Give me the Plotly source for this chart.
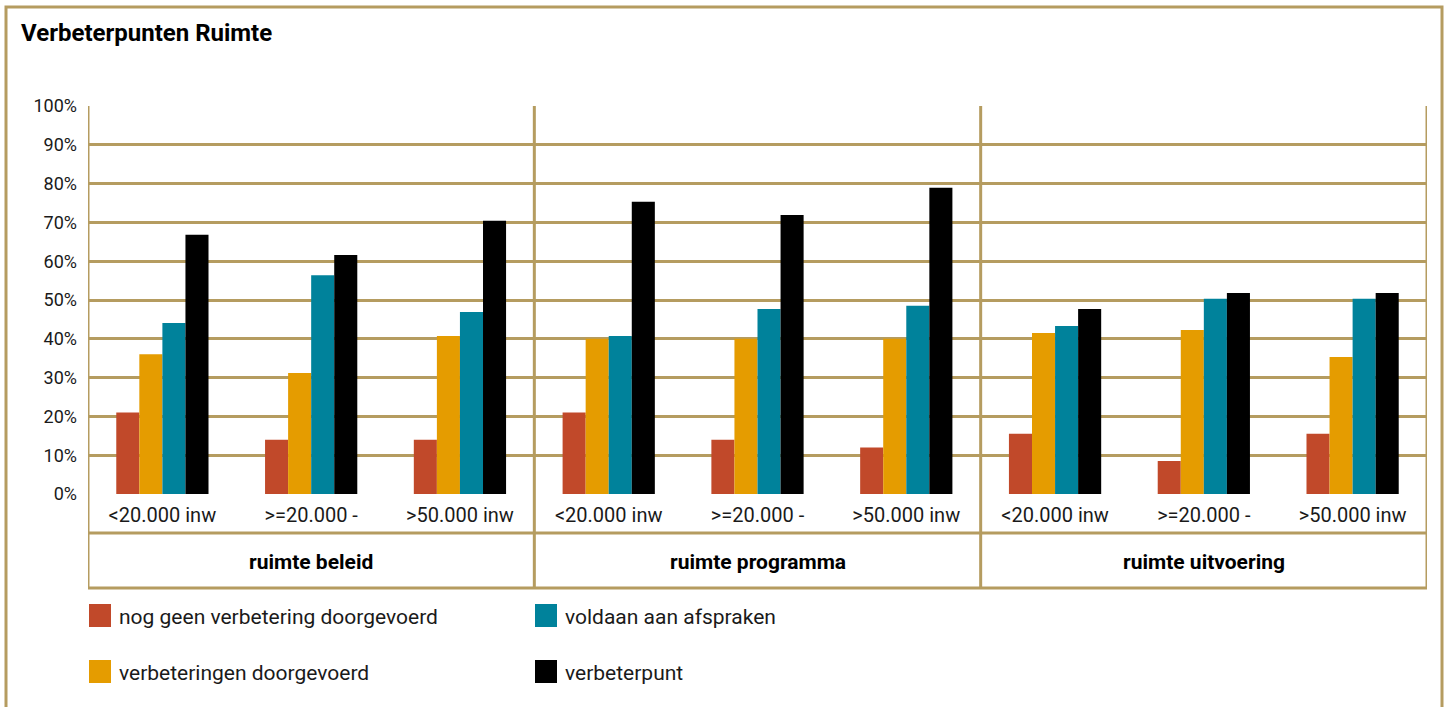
import plotly.graph_objects as go

# ---- data ----
groups = ["ruimte beleid", "ruimte programma", "ruimte uitvoering"]
subcats = ["<20.000 inw", ">=20.000 -", ">50.000 inw"]
series_names = ["nog geen verbetering doorgevoerd", "verbeteringen doorgevoerd",
                "voldaan aan afspraken", "verbeterpunt"]
series_colors = ["#C1492A", "#E59C00", "#00829B", "#000000"]

nog_geen = [21.0, 14.0, 14.0,   21.0, 14.0, 12.0,   15.5, 8.5, 15.5]
verbeteringen = [36.0, 31.2, 40.7,   40.0, 40.0, 40.0,   41.5, 42.3, 35.3]
voldaan = [44.1, 56.4, 46.9,   40.7, 47.7, 48.5,   43.3, 50.3, 50.3]
verbeterpunt = [66.8, 61.6, 70.4,   75.3, 71.9, 78.9,   47.7, 51.8, 51.8]
series_values = [nog_geen, verbeteringen, voldaan, verbeterpunt]

y_ticks = list(range(0, 101, 10))
y_ticklabels = [f"{v}%" for v in y_ticks]

# ---- layout geometry (pixels) ----
W, H = 1451, 707
L, R, T, B = 88, 1427, 106, 494
GOLD = "#B59C60"
FONT = "Roboto"
TXT = "#1a1a1a"

def px(xp):
    return (xp - L) / (R - L)

def py(yp):
    return (B - yp) / (B - T)

n_sub = len(subcats)
x_pos = list(range(len(groups) * n_sub))
x_labels = [subcats[i % n_sub] for i in x_pos]

fig = go.Figure()
for name, color, vals in zip(series_names, series_colors, series_values):
    fig.add_trace(go.Bar(x=x_pos, y=vals, name=name, marker=dict(color=color, line=dict(width=0)),
                         showlegend=False, hoverinfo="name+y"))

shapes = []
line = dict(color=GOLD, width=3)
# outer frame
shapes.append(dict(type="rect", xref="paper", yref="paper",
                   x0=px(6), x1=px(1442), y0=py(730), y1=py(7), line=line))
# table: horizontal lines
for yy in (533, 588):
    shapes.append(dict(type="line", xref="paper", yref="paper",
                       x0=px(L), x1=px(R), y0=py(yy), y1=py(yy), line=line))
# vertical group dividers
n_total = len(x_pos)
for gi in range(len(groups) + 1):
    xd = gi * n_sub - 0.5
    shapes.append(dict(type="line", xref="x", yref="paper",
                       x0=xd, x1=xd, y0=py(588), y1=1, line=line))

annotations = []
annotations.append(dict(text="<b>Verbeterpunten Ruimte</b>", xref="paper", yref="paper",
                        x=px(19), y=py(33), xanchor="left", yanchor="middle", showarrow=False,
                        font=dict(family=FONT, size=24, color="#000")))
for gi, g in enumerate(groups):
    annotations.append(dict(text=f"<b>{g}</b>", xref="x", yref="paper",
                            x=gi * n_sub + (n_sub - 1) / 2, y=py(562), xanchor="center", yanchor="middle",
                            showarrow=False, font=dict(family=FONT, size=21, color="#000")))

# legend (manual, column-major, two columns)
legend_pos = [(89, 616), (89, 672), (535, 616), (535, 672)]
legend_order = [0, 1, 2, 3]
for k, si in enumerate(legend_order):
    lx, ly = legend_pos[k]
    shapes.append(dict(type="rect", xref="paper", yref="paper",
                       x0=px(lx), x1=px(lx + 22), y0=py(ly + 11), y1=py(ly - 12),
                       fillcolor=series_colors[si], line=dict(width=0)))
    annotations.append(dict(text=series_names[si], xref="paper", yref="paper",
                            x=px(lx + 28), y=py(ly + 1), xanchor="left", yanchor="middle",
                            showarrow=False, font=dict(family=FONT, size=21, color=TXT)))

fig.update_layout(
    width=W, height=H,
    margin=dict(l=L, r=W - R, t=T, b=H - B, pad=0),
    paper_bgcolor="white", plot_bgcolor="white",
    barmode="group", bargap=0.38, bargroupgap=0,
    shapes=shapes, annotations=annotations,
    font=dict(family=FONT, size=19, color=TXT),
    xaxis=dict(range=[-0.5, n_total - 0.5], tickmode="array", tickvals=x_pos, ticktext=x_labels,
               showgrid=False, zeroline=False, showline=False, ticks="",
               tickfont=dict(family=FONT, size=20, color=TXT), ticklabelstandoff=7),
    yaxis=dict(range=[0, 100], tickmode="array", tickvals=y_ticks, ticktext=y_ticklabels,
               showgrid=True, gridcolor=GOLD, gridwidth=3, zeroline=False, showline=False,
               ticks="", tickfont=dict(family=FONT, size=18, color=TXT), ticklabelstandoff=10),
)

fig.write_html("out.html", config={"displayModeBar": False},
               post_script="document.body.style.margin='0';document.body.style.overflow='hidden';")
